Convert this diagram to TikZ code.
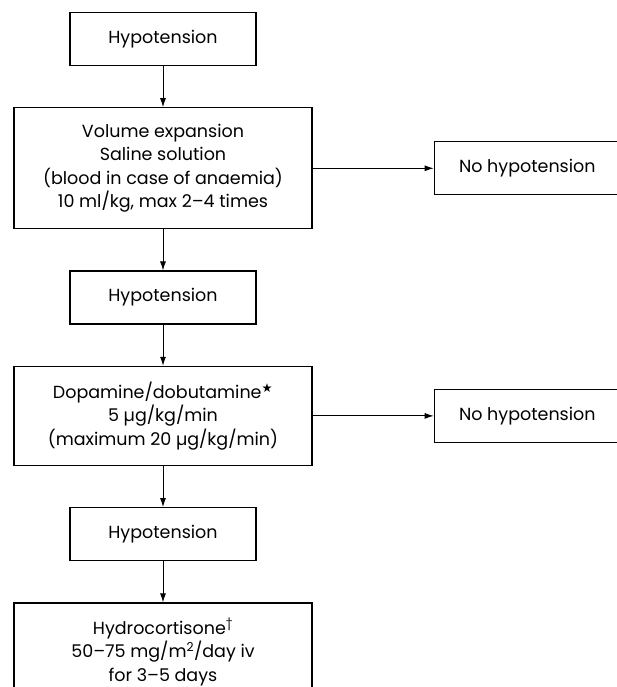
\documentclass[tikz,border=0pt]{standalone}
\usepackage{fontspec}
\setmainfont{Poppins}
\newfontfamily\symfont{DejaVu Sans}
\usetikzlibrary{positioning,arrows.meta}
\tikzset{
  stepbox/.style = {shape=rectangle, draw, line width=1.3pt,
                    align=center, inner sep=2pt,
                    font=\fontsize{17.5}{23.5}\selectfont},
  smallbox/.style = {stepbox, minimum width=186pt, minimum height=53pt},
  largebox/.style = {stepbox, minimum width=298pt},
  flow/.style     = {-{Latex[length=9pt,width=6pt]}, line width=0.9pt}
}

\begin{document}
\begin{tikzpicture}
 [node distance=41pt and 121pt]
  \clip (0,0) rectangle (617pt,-687pt);

  \node[smallbox] (hyp1) at (163pt,-39pt) {Hypotension};
  \node[largebox, minimum height=121pt, below=of hyp1] (volume)
    {Volume expansion\\ Saline solution\\ (blood in case of anaemia)\\ 10 ml/kg, max 2–4 times};
  \node[smallbox, right=of volume] (nohyp1) {No hypotension};
  \node[smallbox, below=of volume] (hyp2) {Hypotension};
  \node[largebox, minimum height=99pt, below=of hyp2] (dopa)
    {Dopamine/dobutamine\textsuperscript{\symfont ★}\\ 5 µg/kg/min\\ (maximum 20 µg/kg/min)};
  \node[smallbox, right=of dopa] (nohyp2) {No hypotension};
  \node[smallbox, below=of dopa] (hyp3) {Hypotension};
  \node[largebox, minimum height=98pt, below=of hyp3] (hydro)
    {Hydrocortisone\textsuperscript{†}\\ 50–75 mg/m\textsuperscript{2}/day iv\\ for 3–5 days};

  \draw[flow] (hyp1) -- (volume);
  \draw[flow] (volume) -- (nohyp1);
  \draw[flow] (volume) -- (hyp2);
  \draw[flow] (hyp2) -- (dopa);
  \draw[flow] (dopa) -- (nohyp2);
  \draw[flow] (dopa) -- (hyp3);
  \draw[flow] (hyp3) -- (hydro);
\end{tikzpicture}
\end{document}
